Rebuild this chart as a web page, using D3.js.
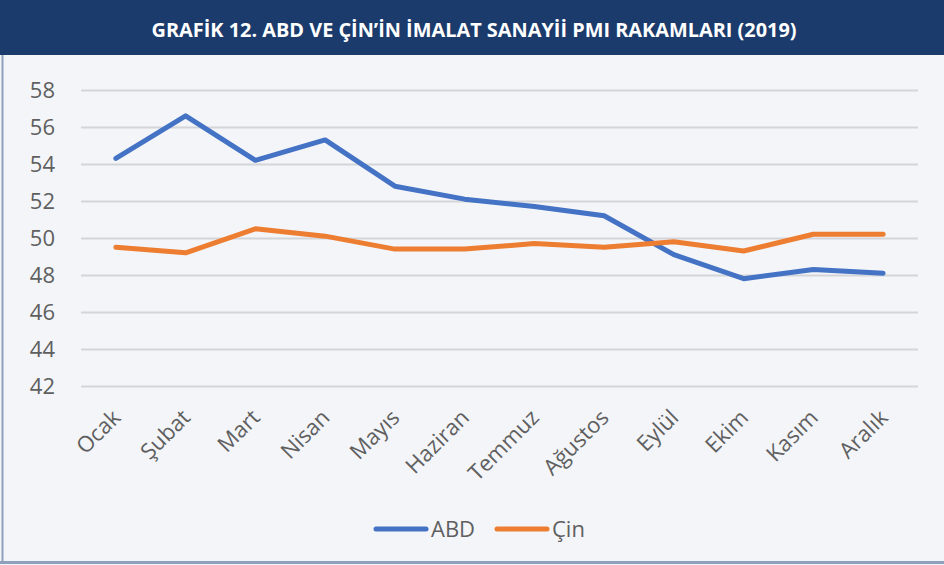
<!DOCTYPE html>
<html>
<head>
<meta charset="utf-8">
<script src="https://cdn.jsdelivr.net/npm/d3@7"></script>
<style>
  body { margin: 0; background: #fff; }
  svg { display: block; font-family: "Open Sans", "Noto Sans", sans-serif; }
</style>
</head>
<body>
<svg id="chart" width="944" height="565"></svg>
<script>
// data
const months = ['Ocak', 'Şubat', 'Mart', 'Nisan', 'Mayıs', 'Haziran', 'Temmuz', 'Ağustos', 'Eylül', 'Ekim', 'Kasım', 'Aralık'];
const abd = [54.3, 56.6, 54.2, 55.3, 52.8, 52.1, 51.7, 51.2, 49.1, 47.8, 48.3, 48.1];
const cin = [49.5, 49.2, 50.5, 50.1, 49.4, 49.4, 49.7, 49.5, 49.8, 49.3, 50.2, 50.2];
const yTicks = [42, 44, 46, 48, 50, 52, 54, 56, 58];
const seriesNames = ['ABD', 'Çin'];
const colors = ['#4472c4', '#ed7d31'];

const svg = d3.select('#chart');

// panel background + frame
svg.append('rect').attr('x', 0).attr('y', 0).attr('width', 944).attr('height', 565).attr('fill', '#f3f5f9');
svg.append('rect').attr('x', 0).attr('y', 0).attr('width', 944).attr('height', 55).attr('fill', '#1b3b6c');
svg.append('line').attr('x1', 2.5).attr('x2', 2.5).attr('y1', 55).attr('y2', 563)
    .attr('stroke', '#8ea0bb').attr('stroke-width', 2);
svg.append('line').attr('x1', 0).attr('x2', 944).attr('y1', 562.5).attr('y2', 562.5)
    .attr('stroke', '#8ea0bb').attr('stroke-width', 3);

svg.append('text')
    .attr('x', 474).attr('y', 37)
    .attr('text-anchor', 'middle')
    .attr('fill', '#fff')
    .style('font-size', '20px')
    .style('font-weight', 700)
    .attr('textLength', 645)
    .attr('lengthAdjust', 'spacingAndGlyphs')
    .text('GRAFİK 12. ABD VE ÇİN’İN İMALAT SANAYİİ PMI RAKAMLARI (2019)');

const x = d3.scaleBand().domain(months).range([81, 918]);
const y = d3.scaleLinear().domain([42, 58]).range([386, 90]);

// grid
const yAxis = svg.append('g')
    .attr('transform', 'translate(81,0)')
    .call(d3.axisLeft(y).tickValues(yTicks).tickSize(-837).tickPadding(26));
yAxis.select('.domain').remove();
yAxis.selectAll('.tick line').attr('stroke', '#d4d5d9').attr('stroke-width', 2);
yAxis.selectAll('.tick text')
    .attr('fill', '#5f5f5f')
    .style('font-size', '22px')
    .style('font-family', '"Open Sans", sans-serif');

// x labels, rotated
const xAxis = svg.append('g')
    .attr('transform', 'translate(0,386)')
    .call(d3.axisBottom(x).tickSize(0).tickPadding(0));
xAxis.select('.domain').remove();
xAxis.selectAll('.tick text')
    .attr('fill', '#5f5f5f')
    .style('font-size', '22px')
    .style('font-family', '"Open Sans", sans-serif')
    .attr('text-anchor', 'end')
    .attr('dy', null)
    .attr('transform', 'translate(6,33) rotate(-45)');

// lines
const line = d3.line()
    .x((d, i) => x(months[i]) + x.bandwidth() / 2)
    .y(d => y(d));

[abd, cin].forEach((vals, k) => {
    svg.append('path')
        .datum(vals)
        .attr('fill', 'none')
        .attr('stroke', colors[k])
        .attr('stroke-width', 5)
        .attr('stroke-linejoin', 'round')
        .attr('stroke-linecap', 'round')
        .attr('d', line);
});

// legend
const legend = svg.append('g').attr('transform', 'translate(376,529)');
seriesNames.forEach((name, k) => {
    const g = legend.append('g').attr('transform', `translate(${k * 121},0)`);
    g.append('line').attr('x1', 0).attr('x2', 50).attr('y1', 0).attr('y2', 0)
        .attr('stroke', colors[k]).attr('stroke-width', 5).attr('stroke-linecap', 'round');
    g.append('text').attr('x', 55).attr('y', 8)
        .attr('fill', '#5f5f5f').style('font-size', '22px')
        .text(name);
});
</script>
</body>
</html>
